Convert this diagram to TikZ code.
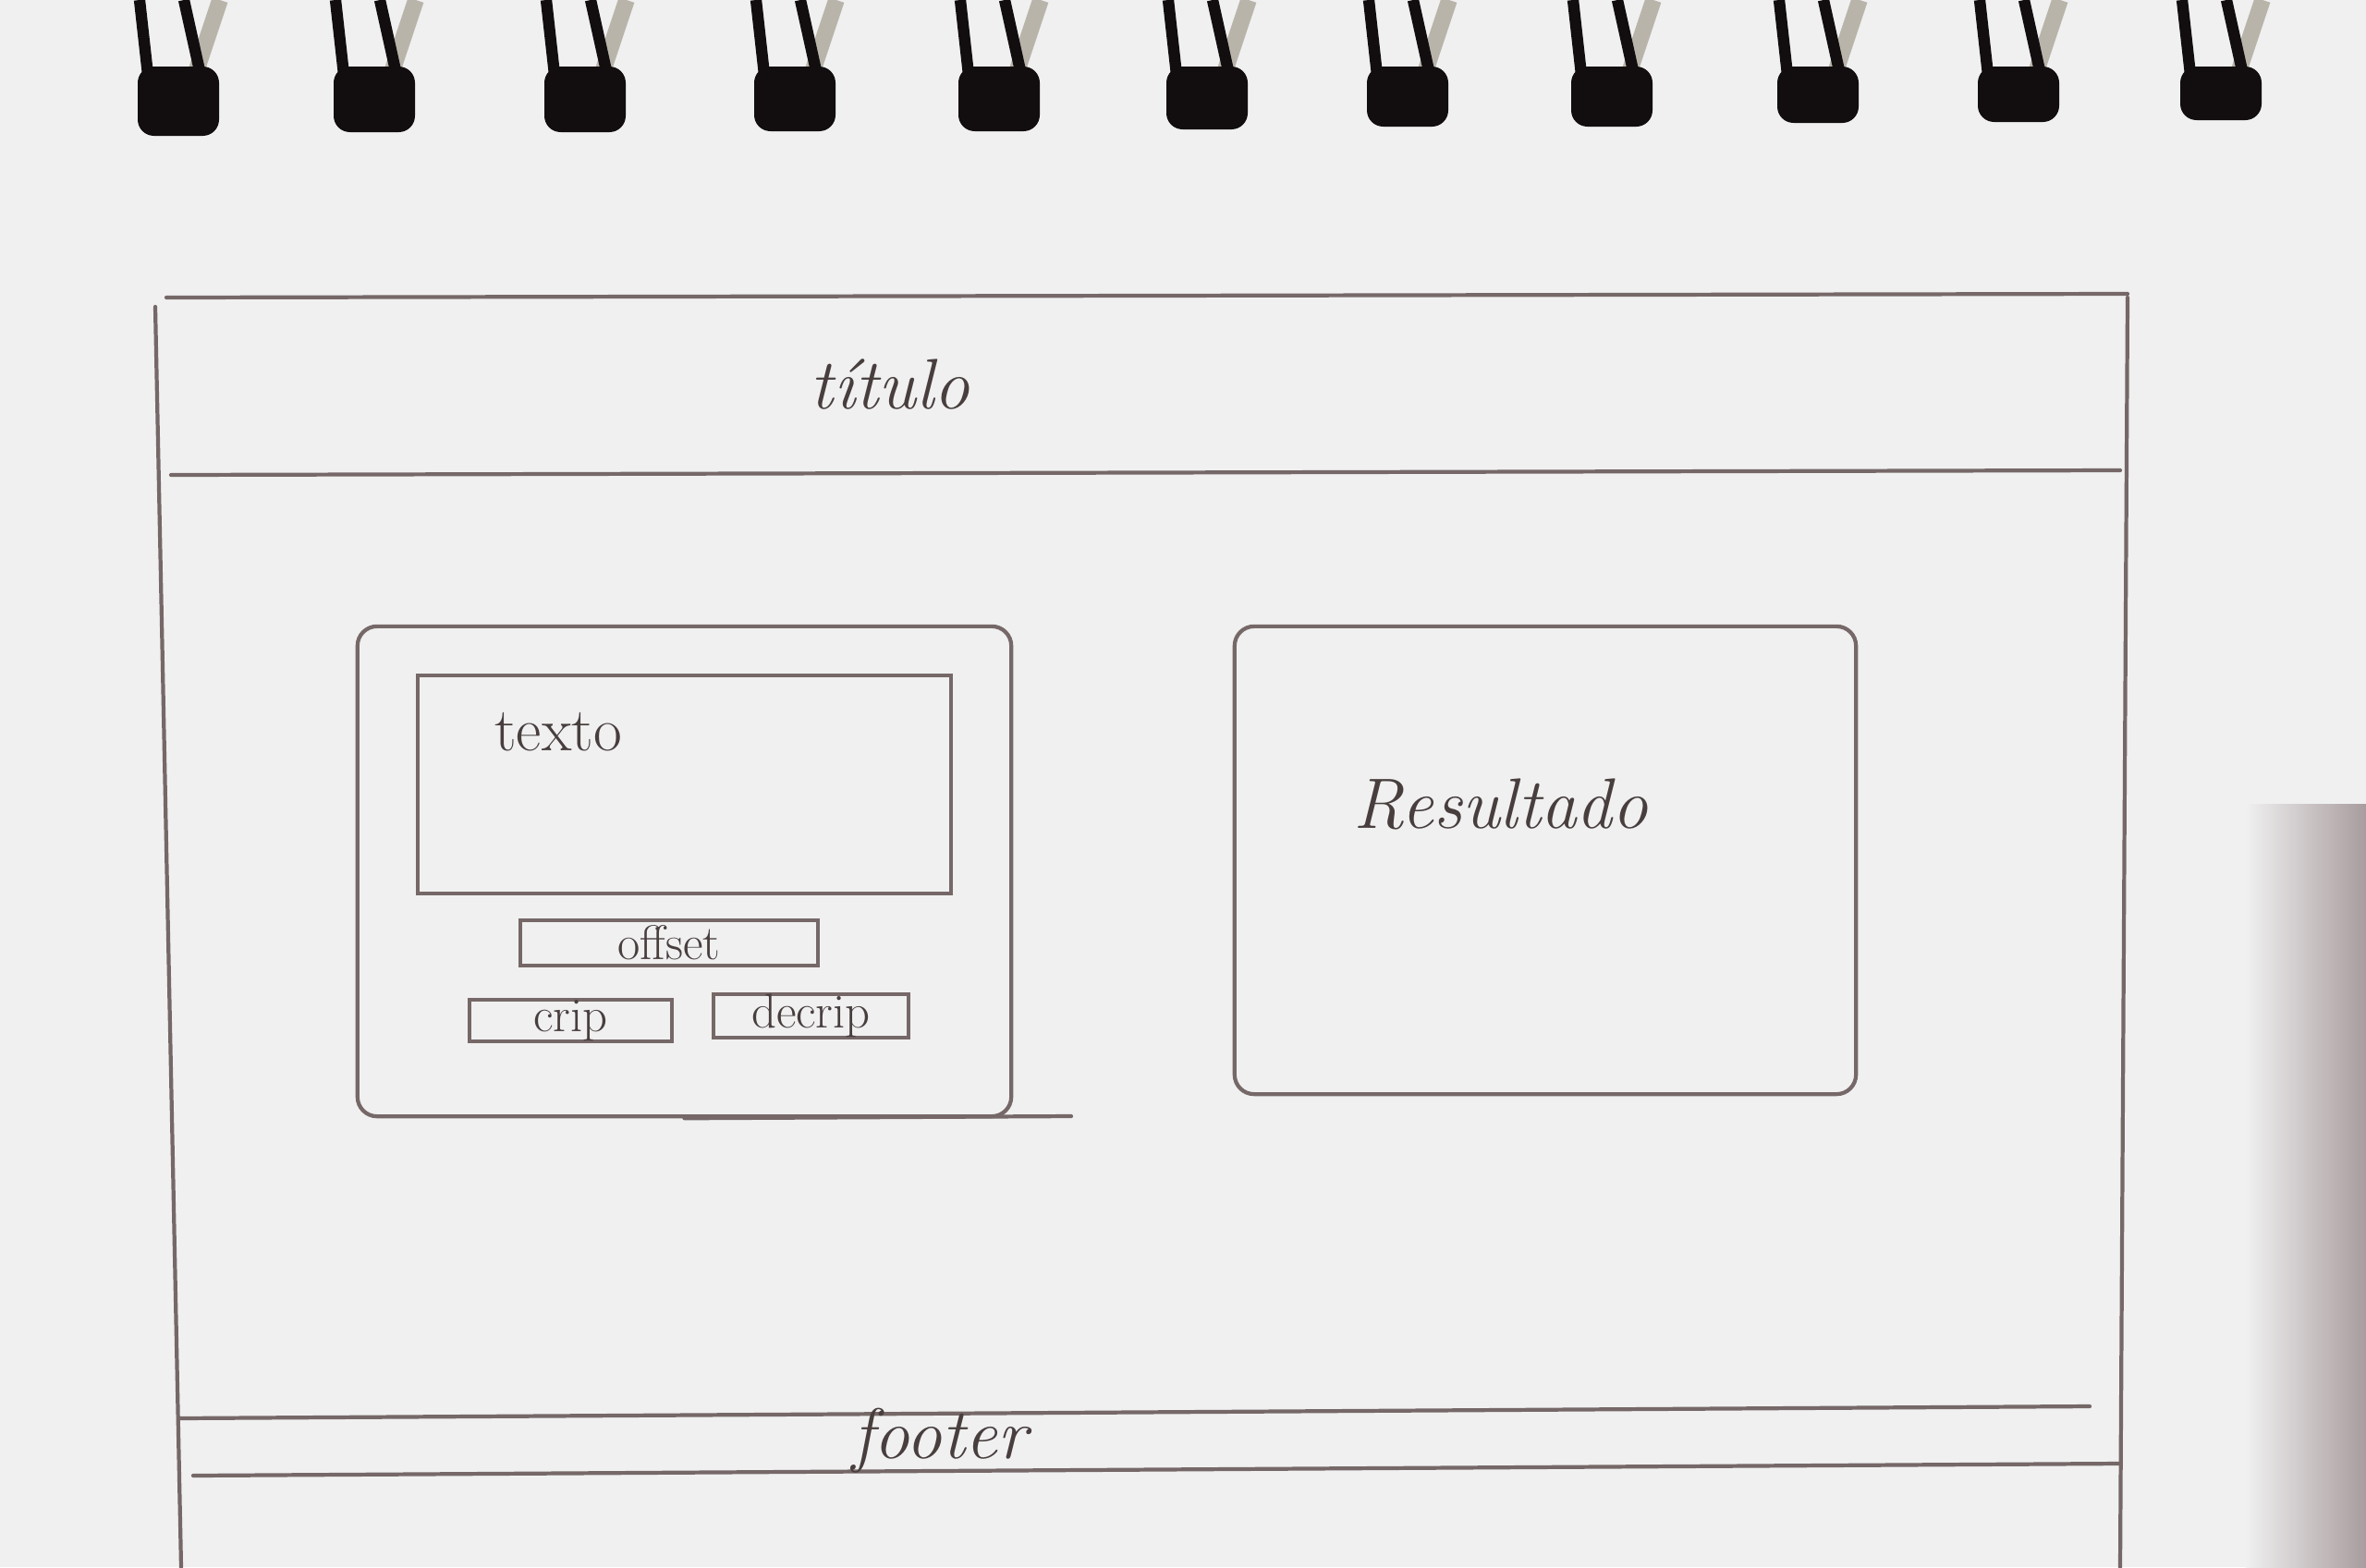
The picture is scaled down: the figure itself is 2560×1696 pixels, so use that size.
\documentclass[tikz,border=0pt]{standalone}
\usepackage{tikz}

\definecolor{paper}{RGB}{240,240,240}
\definecolor{pencil}{RGB}{118,104,104}
\definecolor{ink}{RGB}{72,62,62}
\definecolor{ringblack}{RGB}{18,14,16}
\definecolor{ringshade}{RGB}{185,180,170}
\definecolor{shadowgray}{RGB}{168,156,158}
\definecolor{shadowpink}{RGB}{222,190,192}

\tikzset{
    pencil/.style={draw=pencil, line width=1.2pt, line cap=round},
    hand/.style={text=ink, font=\fontsize{22}{26}\selectfont\itshape},
    print/.style={text=ink, font=\fontsize{19}{22}\selectfont},
    panel/.style={pencil, rectangle, rounded corners=6pt, inner sep=0pt},
    btn/.style={pencil, rectangle, inner sep=0pt, text=ink, font=\fontsize{15}{17}\selectfont}
}

\begin{document}
\begin{tikzpicture}[x=0.01cm, y=-0.01cm]
    \fill[paper] (0,0) rectangle (2560,1696);
    \useasboundingbox (0,0) rectangle (2560,1696);

    % shadow at the right edge
    \shade[left color=paper, middle color=shadowpink, right color=shadowgray] (2430,870) rectangle (2560,1696);

    % spiral
    \foreach \cx/\by in {193/147,405/143,633/143,860/142,1081/142,1306/140,1523/137,1744/137,1967/133,2184/132,2403/130}{
        \draw[ringshade, line width=5pt] (\cx+45,0) -- (\cx+20,75);
        \draw[ringblack, line width=3.5pt] (\cx-42,0) -- (\cx-32,90);
        \draw[ringblack, line width=3.5pt] (\cx+6,0) -- (\cx+26,90);
        \fill[ringblack, rounded corners=5pt] (\cx-44,72) rectangle (\cx+44,\by);
    }

    % page frame
    \draw[pencil] (180,322) -- (2302,318);
    \draw[pencil] (168,332) -- (196,1696);
    \draw[pencil] (2302,322) -- (2294,1696);
    \draw[pencil] (185,514) -- (2294,509);
    \draw[pencil] (193,1535) -- (2261,1522);
    \draw[pencil] (209,1597) -- (2294,1584);

    \draw
    (963,416)node[hand](titulo){título}
    (740.5,943)node[panel, minimum width=7.07cm, minimum height=5.30cm](editor){}
    (740.5,849)node[pencil, rectangle, minimum width=5.77cm, minimum height=2.36cm](caixa){}
    (604,792)node[print](texto){texto}
    (724,1020.5)node[btn, minimum width=3.22cm, minimum height=0.49cm](offset){offset}
    (617.5,1104.5)node[btn, minimum width=2.19cm, minimum height=0.45cm](crip){crip}
    (877.5,1099.5)node[btn, minimum width=2.11cm, minimum height=0.47cm](decrip){decrip}
    (1672,931)node[panel, minimum width=6.72cm, minimum height=5.06cm](resultado){}
    (1624,870)node[hand](res){Resultado}
    (1017,1559)node[hand](footer){footer}
    ;
    \draw[pencil] (editor.south) -- (1159,1208);
\end{tikzpicture}
\end{document}
